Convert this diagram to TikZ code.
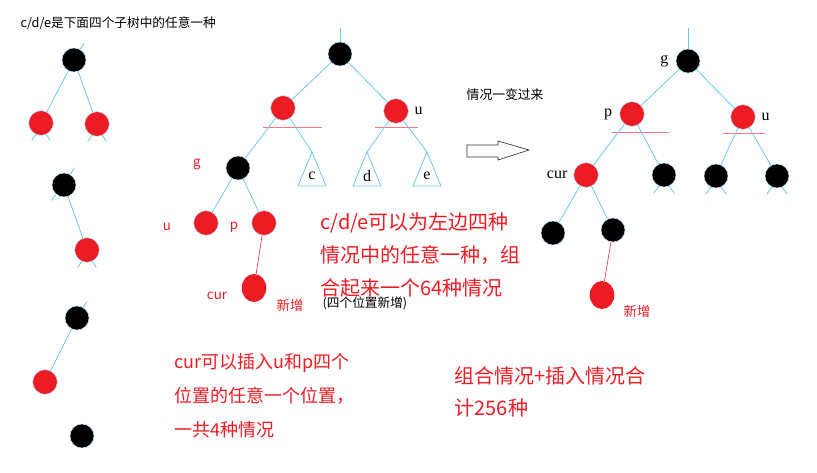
\documentclass[tikz,border=0pt]{standalone}
\usepackage{fontspec}
\setmainfont{Liberation Serif}
\newfontfamily\cjk{Noto Sans CJK SC}
\usetikzlibrary{shapes,arrows}
\usetikzlibrary{positioning}
\definecolor{rbred}{HTML}{ED1C24}
\definecolor{edgeblue}{HTML}{6CC8EE}
\definecolor{cutred}{HTML}{F07A7A}
\tikzstyle{blk} = [circle, fill=black, draw=edgeblue!50, minimum size=18pt, inner sep=0pt]
\tikzstyle{rd} = [circle, fill=rbred, draw=edgeblue!50, minimum size=18.5pt, inner sep=0pt]
\tikzstyle{newrd} = [ellipse, fill=rbred, minimum width=18.5pt, minimum height=21pt, inner sep=0pt]
\tikzstyle{edge} = [edgeblue, line width=0.6pt]
\tikzstyle{insert} = [rbred!85, line width=0.5pt]
\tikzstyle{cut} = [cutred, line width=0.6pt]
\tikzstyle{lbl} = [font=\fontsize{12}{12}\selectfont]
\tikzstyle{redlbl} = [text=rbred, font=\cjk\fontsize{10}{10}\selectfont]
\tikzstyle{note} = [anchor=west, align=left, text=rbred]

\begin{document}
\begin{tikzpicture}[x=0.75pt,y=-0.75pt]
\useasboundingbox (0,0) rectangle (817,473);

% the four subtrees on the left
\node (title) [anchor=west, font=\cjk\fontsize{9.5}{9.5}\selectfont] at (16,23) {c/d/e是下面四个子树中的任意一种};
\node (ta) [blk] at (74,60) {};
\node (tal) [rd] at (41,123) {};
\node (tar) [rd] at (97,124) {};
\draw [edge] (ta) -- (tal);
\draw [edge] (ta) -- (tar);
\node (tb) [blk] at (64,185) {};
\node (tbr) [rd] at (87,250) {};
\draw [edge] (tb) -- (tbr);
\node (tc) [blk] at (77,318) {};
\node (tcl) [rd] at (45,382) {};
\draw [edge] (tc) -- (tcl);
\node (td) [blk] at (82,436) {};
\foreach \n in {ta,tb,tc}
    \draw [edge] (\n.60) -- ++(4,-6);
\foreach \n in {tal,tar,tbr}
    {\draw [edge] (\n.-115) -- ++(-4,6);
     \draw [edge] (\n.-65) -- ++(4,6);}
\draw [edge] (tb.-130) -- ++(-5,6);

% tree before the change
\node (mroot) [blk] at (340,54) {};
\coordinate (mtop) at (340,28);
\draw [edge] (mtop) -- (mroot);
\node (mp) [rd] at (283,108) {};
\node (mu) [rd] at (396,111) {};
\node (mulbl) [lbl, right=1pt of mu] {u};
\draw [edge] (mroot) -- (mp);
\draw [edge] (mroot) -- (mu);
\draw [cut] (263,127) -- (322,127);
\draw [cut] (375,127) -- (418,127);
\node (mg) [blk] at (238,168) {};
\node (mglbl) [redlbl] at (197,164) {g};
\draw [edge] (mp) -- (mg);
\foreach \n/\x in {c/312, d/367, e/427}
    {\coordinate (\n top) at (\x,152);
     \draw [edge] (\n top) -- ++(-14,34) -- ++(28,0) -- cycle;
     \node (\n lbl) [lbl] at (\x,176) {\n};}
\draw [edge] (mp) -- (ctop);
\draw [edge] (mu) -- (dtop);
\draw [edge] (mu) -- (etop);
\node (mgu) [rd] at (206,223) {};
\node (mgp) [rd] at (264,223) {};
\node (mgulbl) [redlbl] at (167,227) {u};
\node (mgplbl) [redlbl] at (234,227) {p};
\draw [edge] (mg) -- (mgu);
\draw [edge] (mg) -- (mgp);
\node (mcur) [newrd] at (254,288) {};
\node (mcurlbl) [redlbl] at (217,296) {cur};
\draw [insert] (mgp) -- (mcur);
\node (mnew) [redlbl] at (290,305) {新增};
\node (mfour) [anchor=west, font=\cjk\fontsize{9.5}{9.5}\selectfont] at (318,303) {(四个位置新增)};

% arrow
\node (change) [anchor=west, font=\cjk\fontsize{9.6}{9.6}\selectfont] at (462,95) {情况一变过来};
\draw [black!80, line width=0.5pt] (467,145) -- (498,145) -- (498,141) -- (529,150)
    -- (498,160) -- (498,157) -- (467,157) -- cycle;

% tree after the change
\node (ng) [blk] at (688,61) {};
\coordinate (ntop) at (688,28);
\draw [edge] (ntop) -- (ng);
\node (nglbl) [lbl, left=2pt of ng] {g};
\node (np) [rd] at (632,114) {};
\node (nplbl) [lbl, left=2pt of np] {p};
\node (nu) [rd] at (743,117) {};
\node (nulbl) [lbl, right=1pt of nu] {u};
\draw [edge] (ng) -- (np);
\draw [edge] (ng) -- (nu);
\draw [cut] (612,132) -- (669,132);
\draw [cut] (723,133) -- (765,133);
\node (ncur) [rd] at (586,175) {};
\node (ncurlbl) [lbl, left=1pt of ncur] {cur};
\node (npr) [blk] at (664,175) {};
\node (nul) [blk] at (716,176) {};
\node (nur) [blk] at (777,176) {};
\draw [edge] (np) -- (ncur);
\draw [edge] (np) -- (npr);
\draw [edge] (nu) -- (nul);
\draw [edge] (nu) -- (nur);
\foreach \n in {npr,nul,nur}
    {\draw [edge] (\n.-115) -- ++(-5,7);
     \draw [edge] (\n.-65) -- ++(5,7);}
\node (ncl) [blk] at (553,233) {};
\node (ncr) [blk] at (613,230) {};
\draw [edge] (ncur) -- (ncl);
\draw [edge] (ncur) -- (ncr);
\node (nnew) [newrd] at (602,295) {};
\draw [insert] (ncr) -- (nnew);
\node (nnewlbl) [redlbl] at (637,311) {新增};

% notes
\node (note64) [note, font=\cjk\fontsize{15}{24.75}\selectfont] at (316,255)
    {c/d/e可以为左边四种\\情况中的任意一种，组\\合起来一个64种情况};
\node (note4) [note, font=\cjk\fontsize{13.5}{25.5}\selectfont] at (170,396)
    {cur可以插入u和p四个\\位置的任意一个位置，\\一共4种情况};
\node (note256) [note, font=\cjk\fontsize{15}{24}\selectfont] at (450,392)
    {组合情况+插入情况合\\计256种};
\end{tikzpicture}
\end{document}
